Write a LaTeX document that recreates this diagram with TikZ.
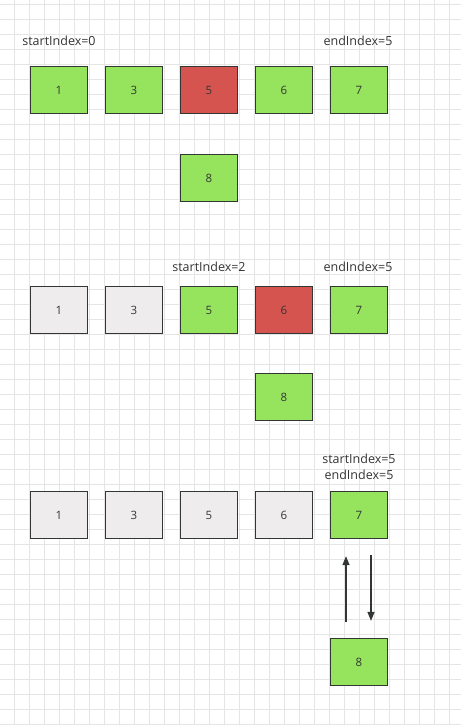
\documentclass[tikz,border=0pt]{standalone}
\usepackage{fontspec}
\setmainfont{Open Sans}
\usetikzlibrary{arrows.meta}
\definecolor{boxgreen}{RGB}{150,227,94}
\definecolor{boxred}{RGB}{213,84,80}
\definecolor{boxgrey}{RGB}{238,236,236}
\definecolor{edgegrey}{RGB}{51,55,51}
\definecolor{gridgrey}{RGB}{229,229,229}
\tikzset{
  cell/.style={draw=edgegrey, line width=1.3pt, minimum width=57pt, minimum height=47pt,
    inner sep=0pt, text=edgegrey, font=\fontsize{11.5}{13}\selectfont},
  ok/.style={cell, fill=boxgreen},
  bad/.style={cell, fill=boxred},
  done/.style={cell, fill=boxgrey},
  idx/.style={text=black!80, font=\fontsize{12.5}{15}\selectfont, inner sep=0pt},
  swap/.style={draw=edgegrey, line width=1.3pt, -{Triangle[length=9pt,width=7pt]}}
}
\begin{document}
\begin{tikzpicture}[x=1pt, y=-1pt]
    \useasboundingbox (0,0) rectangle (461,725);
    % background grid
    \foreach \gx in {14,29,...,461} \draw[gridgrey, line width=0.7pt] (\gx,0) -- (\gx,725);
    \foreach \gy in {4,19,...,725} \draw[gridgrey, line width=0.7pt] (0,\gy) -- (461,\gy);

    % first pass
    \node[idx] (s1) at (59,41) {startIndex=0};
    \node[idx] (e1) at (358,41) {endIndex=5};
    \node[ok]  (a1) at (59,90)  {1};
    \node[ok]  (a3) at (134,90) {3};
    \node[bad] (a5) at (209,90) {5};
    \node[ok]  (a6) at (284,90) {6};
    \node[ok]  (a7) at (359,90) {7};
    \node[ok]  (a8) at (209,178) {8};

    % second pass
    \node[idx] (s2) at (209,267) {startIndex=2};
    \node[idx] (e2) at (358,267) {endIndex=5};
    \node[done] (b1) at (59,310)  {1};
    \node[done] (b3) at (134,310) {3};
    \node[ok]   (b5) at (209,310) {5};
    \node[bad]  (b6) at (284,310) {6};
    \node[ok]   (b7) at (359,310) {7};
    \node[ok]   (b8) at (284,397) {8};

    % third pass
    \node[idx] (s3) at (359,459) {startIndex=5};
    \node[idx] (e3) at (359,475) {endIndex=5};
    \node[done] (c1) at (59,515)  {1};
    \node[done] (c3) at (134,515) {3};
    \node[done] (c5) at (209,515) {5};
    \node[done] (c6) at (284,515) {6};
    \node[ok]   (c7) at (359,515) {7};
    \node[ok]   (c8) at (359,662) {8};
    \draw[swap, shorten <=16pt, shorten >=17pt] ([xshift=-13pt]c8.north) -- ([xshift=-13pt]c7.south);
    \draw[swap, shorten <=16pt, shorten >=17pt] ([xshift=12pt]c7.south) -- ([xshift=12pt]c8.north);
\end{tikzpicture}
\end{document}
